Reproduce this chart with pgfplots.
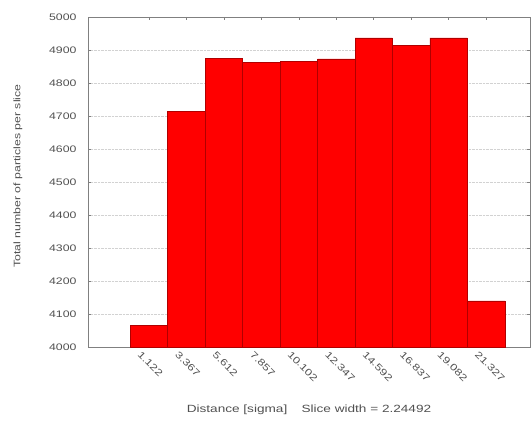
\documentclass[border=0pt]{standalone}
\usepackage{pgfplots}
\pgfplotsset{compat=1.18}
\usepackage{fontspec}
\setmainfont{Liberation Sans}[FakeStretch=1.3]
\definecolor{txt}{HTML}{505050}
\definecolor{axc}{HTML}{808080}
\definecolor{edge}{HTML}{B00000}
\begin{document}
\begin{tikzpicture}[x=1bp,y=1bp]
\path[use as bounding box] (-88,-73) rectangle (443,347);
\begin{axis}[
  at={(0,0)}, anchor=south west,
  scale only axis, width=442bp, height=330bp,
  xmin=-2.52, xmax=23.95, ymin=4000, ymax=5000,
  ytick={4000,4100,...,5000},
  xtick={1.122,3.367,5.612,7.857,10.102,12.347,14.592,16.837,19.082,21.327},
  xticklabels={1.122,3.367,5.612,7.857,10.102,12.347,14.592,16.837,19.082,21.327},
  xtick pos=upper, xticklabel pos=lower,
  ytick pos=both, yticklabel pos=left,
  tick align=inside,
  major tick length=3bp,
  tick style={axc, line width=0.5pt},
  axis line style={axc, line width=0.6pt},
  ymajorgrids, grid style={gray!35, densely dotted, line width=0.4pt},
  /pgf/number format/assume math mode=true,
  /pgf/number format/1000 sep={},
  ticklabel style={font=\fontsize{9.5}{11}\selectfont, text=txt},
  xticklabel style={rotate=-45, anchor=north west, xshift=-6bp, yshift=-4bp},
  yticklabel style={xshift=-8bp},
  xlabel={Distance [sigma] \quad Slice width = 2.24492},
  label style={font=\fontsize{10.5}{12}\selectfont, text=txt},
  xlabel style={at={(axis description cs:0.5,0)}, anchor=center, yshift=-63bp},
]
\addplot[ybar interval, fill=red, draw=edge, line width=0.5pt] coordinates {
(0.000,4065) (2.245,4715) (4.490,4875) (6.735,4862) (8.980,4865)
(11.225,4873) (13.470,4937) (15.714,4915) (17.959,4937) (20.204,4140) (22.449,4140)
};
\end{axis}
\node[rotate=90, font=\fontsize{9.5}{11}\selectfont, text=txt] at (-70,171) {Total number of particles per slice};
\end{tikzpicture}
\end{document}
